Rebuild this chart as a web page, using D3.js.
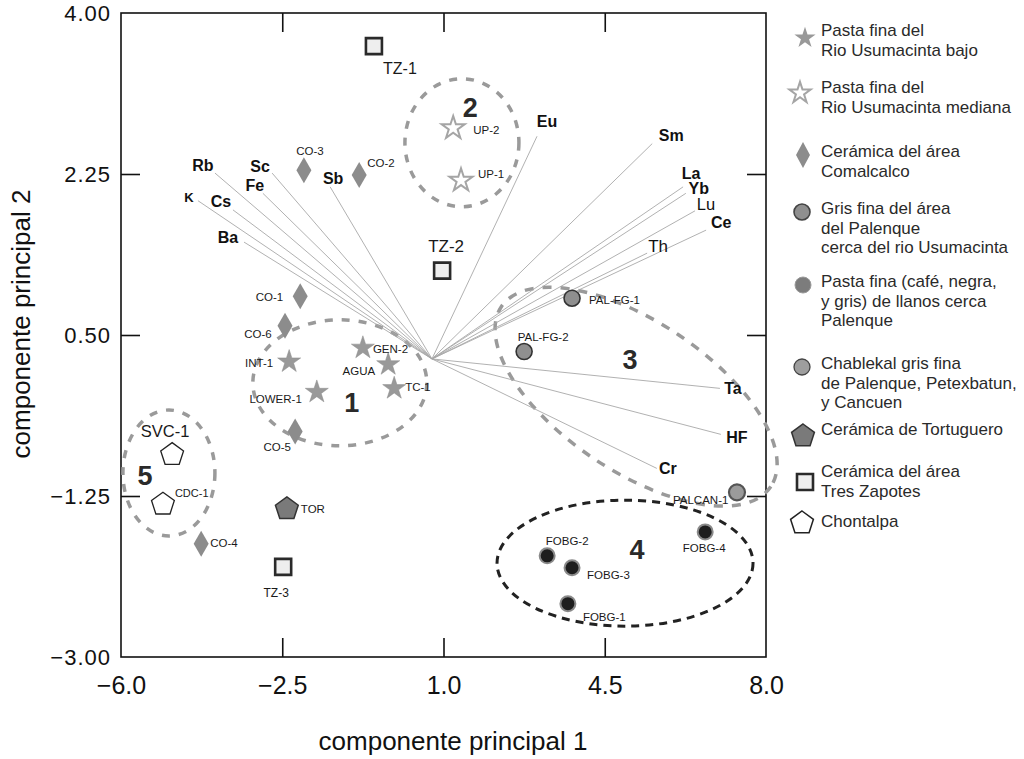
<!DOCTYPE html>
<html><head><meta charset="utf-8">
<script src="https://cdn.jsdelivr.net/npm/d3@7"></script>
<style>body{margin:0;background:#fff}svg{display:block}text{font-family:"Liberation Sans",Arial,sans-serif}</style>
</head><body><svg id="c" width="1024" height="759"></svg>
<script>
// ---------- DATA ----------
const xTicks = [-6.0, -2.5, 1.0, 4.5, 8.0];
const yTicks = [4.00, 2.25, 0.50, -1.25, -3.00];

const lowNames = ["INT-1","GEN-2","AGUA","TC-1","LOWER-1"];
const lowX = [-2.35, -0.75, -0.20, -0.07, -1.75];
const lowY = [0.21, 0.36, 0.18, -0.08, -0.12];

const midNames = ["UP-2","UP-1"];
const midX = [1.21, 1.38];
const midY = [2.75, 2.18];

const coNames = ["CO-3","CO-2","CO-1","CO-6","CO-5","CO-4"];
const coX = [-2.03, -0.83, -2.11, -2.44, -2.22, -4.26];
const coY = [2.29, 2.24, 0.92, 0.60, -0.55, -1.77];

const palNames = ["PAL-FG-1","PAL-FG-2"];
const palX = [3.79, 2.75];
const palY = [0.90, 0.32];

const fobgNames = ["FOBG-2","FOBG-3","FOBG-1","FOBG-4"];
const fobgX = [3.25, 3.79, 3.70, 6.68];
const fobgY = [-1.90, -2.03, -2.42, -1.64];

const chabNames = ["PALCAN-1"];
const chabX = [7.37];
const chabY = [-1.21];

const torNames = ["TOR"];
const torX = [-2.40];
const torY = [-1.39];

const tzNames = ["TZ-1","TZ-2","TZ-3"];
const tzX = [-0.51, 0.97, -2.48];
const tzY = [3.64, 1.20, -2.02];

const chNames = ["SVC-1","CDC-1"];
const chX = [-4.89, -5.09];
const chY = [-0.80, -1.34];

const vecOrigin = [0.75, 0.24];
const vecNames = ["Rb","Sc","Fe","K","Cs","Ba","Sb","Eu","Sm","La","Yb","Lu","Ce","Th","Ta","HF","Cr"];
const vecX = [-3.96,-2.72,-2.92,-4.33,-3.57,-3.33,-1.46,3.03,5.53,6.20,6.26,6.46,6.70,5.42,7.00,7.02,5.63];
const vecY = [2.26,2.26,2.04,1.96,1.86,1.51,2.11,2.66,2.58,2.11,2.04,1.85,1.64,1.39,-0.08,-0.58,-0.95];

const groupNames = ["1","2","3","4","5"];
const groupX = [-1.25, 1.40, 5.18, 4.94, -4.96];
const groupY = [-0.02, 2.59, -0.17, -1.98, -1.00];
const groupLabelX = [-0.99, 1.58, 5.05, 5.20, -5.48];
const groupLabelY = [-0.34, 2.87, 0.13, -1.93, -1.13];

const legendLabels = [
  ["Pasta fina del","Rio Usumacinta bajo"],
  ["Pasta fina del","Rio Usumacinta mediana"],
  ["Cerámica del área","Comalcalco"],
  ["Gris fina del área","del Palenque","cerca del rio Usumacinta"],
  ["Pasta fina (café, negra,","y gris) de llanos cerca","Palenque"],
  ["Chablekal gris fina","de Palenque, Petexbatun,","y Cancuen"],
  ["Cerámica de Tortuguero"],
  ["Cerámica del área","Tres Zapotes"],
  ["Chontalpa"]
];

// ---------- LAYOUT ----------
const svg = d3.select("#c");
const x = d3.scaleLinear().domain([-6, 8]).range([121, 766]);
const y = d3.scaleLinear().domain([-3, 4]).range([657, 13]);

svg.append("rect").attr("x",121).attr("y",13).attr("width",645).attr("height",644)
  .attr("fill","none").attr("stroke","#111").attr("stroke-width",1.6);

const inner = v => v !== xTicks[0] && v !== xTicks[xTicks.length-1];
const innerY = v => v !== yTicks[0] && v !== yTicks[yTicks.length-1];
function tickAxis(g){ g.selectAll(".domain").remove(); g.selectAll("line").attr("stroke","#111").attr("stroke-width",1.6); g.selectAll("text").remove(); }
svg.append("g").attr("transform","translate(0,657)").call(d3.axisBottom(x).tickValues(xTicks.filter(inner)).tickSize(-19)).call(tickAxis);
svg.append("g").attr("transform","translate(0,13)").call(d3.axisTop(x).tickValues(xTicks.filter(inner)).tickSize(-19)).call(tickAxis);
svg.append("g").attr("transform","translate(121,0)").call(d3.axisLeft(y).tickValues(yTicks.filter(innerY)).tickSize(-19)).call(tickAxis);
svg.append("g").attr("transform","translate(766,0)").call(d3.axisRight(y).tickValues(yTicks.filter(innerY)).tickSize(-19)).call(tickAxis);

const xl = svg.append("g").attr("transform","translate(0,657)").call(d3.axisBottom(x).tickValues(xTicks).tickSize(0).tickPadding(0).tickFormat(d3.format(".1f")));
xl.select(".domain").remove();
xl.selectAll("text").attr("y",37).attr("dy",null).attr("font-size",25).attr("fill","#111");
const yl = svg.append("g").attr("transform","translate(121,0)").call(d3.axisLeft(y).tickValues(yTicks).tickSize(0).tickPadding(10).tickFormat(d3.format(".2f")));
yl.select(".domain").remove();
yl.selectAll("text").attr("dy","0.36em").attr("font-size",22).attr("letter-spacing",1).attr("fill","#111");

svg.append("text").attr("x",453).attr("y",750).attr("text-anchor","middle").attr("font-size",26).attr("fill","#111").text("componente principal 1");
svg.append("text").attr("transform","translate(30,324) rotate(-90)").attr("text-anchor","middle").attr("font-size",26).attr("fill","#111").text("componente principal 2");

// group ellipses
const ellipses = [
  {g:0, rx:87, ry:63, rot:0, col:"#9a9a9a", w:3.5, dash:"8,9"},
  {g:1, rx:57, ry:64, rot:0, col:"#9a9a9a", w:3.5, dash:"8,9"},
  {g:2, rx:162, ry:75, rot:33.7, col:"#9a9a9a", w:3.5, dash:"9,9"},
  {g:3, rx:128, ry:63, rot:0, col:"#222", w:3, dash:"8,6"},
  {g:4, rx:46, ry:63, rot:0, col:"#9a9a9a", w:3.5, dash:"8,9"}
];
ellipses.forEach(e=>{
  svg.append("ellipse").attr("transform",`translate(${x(groupX[e.g])},${y(groupY[e.g])}) rotate(${e.rot})`)
    .attr("rx",e.rx).attr("ry",e.ry).attr("fill","none").attr("stroke",e.col).attr("stroke-width",e.w).attr("stroke-dasharray",e.dash);
});
groupNames.forEach((n,i)=>{
  svg.append("text").attr("x",x(groupLabelX[i])).attr("y",y(groupLabelY[i])).attr("text-anchor","middle")
    .attr("font-size",27).attr("font-weight","bold").attr("fill","#2a2a2a").text(n);
});

// vectors
const vecLab = {Rb:[-12,-2,"b",16],Sc:[-12,-1,"b",16],Fe:[-8,-2,"b",16],K:[-9,1,"b",13],Cs:[-12,-3,"b",16],Ba:[-16,1,"b",16],
  Sb:[3,-3,"b",16],Eu:[10,-9,"b",16],Sm:[19,-3,"b",16],La:[8,-8,"b",16],Yb:[13,1,"b",16],Lu:[11,-1,"n",16.5],Ce:[15,-2,"b",16],
  Th:[11,-1,"n",17],Ta:[13,6,"b",16],HF:[16,9,"b",16],Cr:[11,6,"b",16]};
vecNames.forEach((n,i)=>{
  svg.append("line").attr("x1",x(vecOrigin[0])).attr("y1",y(vecOrigin[1])).attr("x2",x(vecX[i])).attr("y2",y(vecY[i]))
    .attr("stroke","#a8a8a8").attr("stroke-width",0.9);
  const L = vecLab[n];
  svg.append("text").attr("x",x(vecX[i])+L[0]).attr("y",y(vecY[i])+L[1]).attr("text-anchor","middle")
    .attr("font-size",L[3]).attr("font-weight",L[2]==="b"?"bold":"normal").attr("fill","#111").text(n);
});

// marker shapes
const starPath = d3.symbol().type(d3.symbolStar).size(165)();
const starSmall = d3.symbol().type(d3.symbolStar).size(140)();
function poly(n, r, rot){ const p=[]; for(let k=0;k<n;k++){const a=rot+k*2*Math.PI/n; p.push([r*Math.sin(a), -r*Math.cos(a)]);} return "M"+p.map(q=>q.join(",")).join("L")+"Z"; }
const pent = poly(5, 12, 0);
const diamond = "M0,-13L7.5,0L0,13L-7.5,0Z";
const square = "M-8,-8H8V8H-8Z";

function drawSeries(names, xs, ys, draw){
  names.forEach((n,i)=>{ const g = svg.append("g").attr("transform",`translate(${x(xs[i])},${y(ys[i])})`); draw(g); });
}
const star = g=>g.append("path").attr("d",starPath).attr("fill","#999").attr("stroke","#8a8a8a").attr("stroke-width",0.5);
const hstar = g=>g.append("path").attr("d",starPath).attr("fill","#fff").attr("stroke","#a5a5a5").attr("stroke-width",2);
const dia = g=>g.append("path").attr("d",diamond).attr("fill","#8c8c8c");
const palC = g=>g.append("circle").attr("r",8).attr("fill","#8f8f8f").attr("stroke","#333").attr("stroke-width",1.6);
const fobC = g=>g.append("circle").attr("r",7.5).attr("fill","#1e1e1e").attr("stroke","#8a8a8a").attr("stroke-width",2);
const chabC = g=>g.append("circle").attr("r",8).attr("fill","#9b9b9b").attr("stroke","#555").attr("stroke-width",2.2);
const torP = g=>g.append("path").attr("d",pent).attr("fill","#7a7a7a").attr("stroke","#333").attr("stroke-width",1.5);
const sq = g=>g.append("path").attr("d",square).attr("fill","#eee").attr("stroke","#2a2a2a").attr("stroke-width",2.6);
const chP = g=>g.append("path").attr("d",pent).attr("fill","#fff").attr("stroke","#222").attr("stroke-width",1.3);

drawSeries(tzNames, tzX, tzY, sq);
drawSeries(lowNames, lowX, lowY, star);
drawSeries(midNames, midX, midY, hstar);
drawSeries(coNames, coX, coY, dia);
drawSeries(palNames, palX, palY, palC);
drawSeries(fobgNames, fobgX, fobgY, fobC);
drawSeries(chabNames, chabX, chabY, chabC);
drawSeries(torNames, torX, torY, torP);
drawSeries(chNames, chX, chY, chP);

// point labels: [dx, dy, anchor, size]
const pLab = {
 "TZ-1":[26,28,"middle",16],"TZ-2":[4,-19,"middle",17],"TZ-3":[-7,30,"middle",12],
 "UP-2":[20,6,"start",11.5],"UP-1":[17,-2,"start",11.5],
 "CO-3":[6,-15,"middle",11.5],"CO-2":[8,-8,"start",11.5],"CO-1":[-17,5,"end",11.5],"CO-6":[-27,12,"middle",11.5],
 "CO-5":[-18,19,"middle",11.5],"CO-4":[9,3,"start",11.5],
 "INT-1":[-16,5,"end",11.5],"GEN-2":[10,5,"start",11.5],"AGUA":[-13,11,"end",11.5],"TC-1":[11,3,"start",11.5],"LOWER-1":[-15,11,"end",11.5],
 "SVC-1":[-7,-18,"middle",16.5],"CDC-1":[12,-7,"start",11],"TOR":[14,4,"start",11.5],
 "PAL-FG-1":[17,6,"start",11.5],"PAL-FG-2":[19,-11,"middle",11.5],"PALCAN-1":[-64,12,"start",11.5],
 "FOBG-4":[-1,20,"middle",11.5],"FOBG-2":[20,-11,"middle",11.5],"FOBG-3":[15,11,"start",11.5],"FOBG-1":[15,17,"start",11.5]
};
function labelSeries(names, xs, ys){
  names.forEach((n,i)=>{ const L=pLab[n];
    svg.append("text").attr("x",x(xs[i])+L[0]).attr("y",y(ys[i])+L[1]).attr("text-anchor",L[2]).attr("font-size",L[3]).attr("fill","#1a1a1a").text(n); });
}
labelSeries(tzNames,tzX,tzY); labelSeries(lowNames,lowX,lowY); labelSeries(midNames,midX,midY); labelSeries(coNames,coX,coY);
labelSeries(palNames,palX,palY); labelSeries(fobgNames,fobgX,fobgY); labelSeries(chabNames,chabX,chabY);
labelSeries(torNames,torX,torY); labelSeries(chNames,chX,chY);

// legend
const legMark = [
  g=>g.append("path").attr("d",starSmall).attr("fill","#999"),
  g=>g.append("path").attr("d",starSmall).attr("fill","#fff").attr("stroke","#a5a5a5").attr("stroke-width",2),
  g=>g.append("path").attr("d","M0,-13L7,0L0,13L-7,0Z").attr("fill","#8c8c8c"),
  g=>g.append("circle").attr("r",8).attr("fill","#8f8f8f").attr("stroke","#444").attr("stroke-width",1.6),
  g=>g.append("circle").attr("r",8).attr("fill","#7c7c7c").attr("stroke","#9a9a9a").attr("stroke-width",1),
  g=>g.append("circle").attr("r",8).attr("fill","#9e9e9e").attr("stroke","#444").attr("stroke-width",1.3),
  g=>g.append("path").attr("d",poly(5,12,0)).attr("fill","#7a7a7a").attr("stroke","#333").attr("stroke-width",1.5),
  g=>g.append("path").attr("d",square).attr("fill","#eee").attr("stroke","#2a2a2a").attr("stroke-width",2.6),
  g=>g.append("path").attr("d",poly(5,12,0)).attr("fill","#fff").attr("stroke","#222").attr("stroke-width",1.5)
];
const legMarkPos = [[805,38],[800,93],[803,155],[802,212],[803,285],[802,367],[803,436],[805,482],[802,523]];
const legFirstBase = [36,93,157,214,287,369,435,477,527];
legendLabels.forEach((lines,i)=>{
  const g = svg.append("g").attr("transform",`translate(${legMarkPos[i][0]},${legMarkPos[i][1]})`); legMark[i](g);
  const t = svg.append("text").attr("x",821).attr("y",legFirstBase[i]).attr("font-size",17).attr("fill","#2a2a2a");
  lines.forEach((s,k)=>t.append("tspan").attr("x",821).attr("dy",k?19.5:0).text(s));
});
</script></body></html>
